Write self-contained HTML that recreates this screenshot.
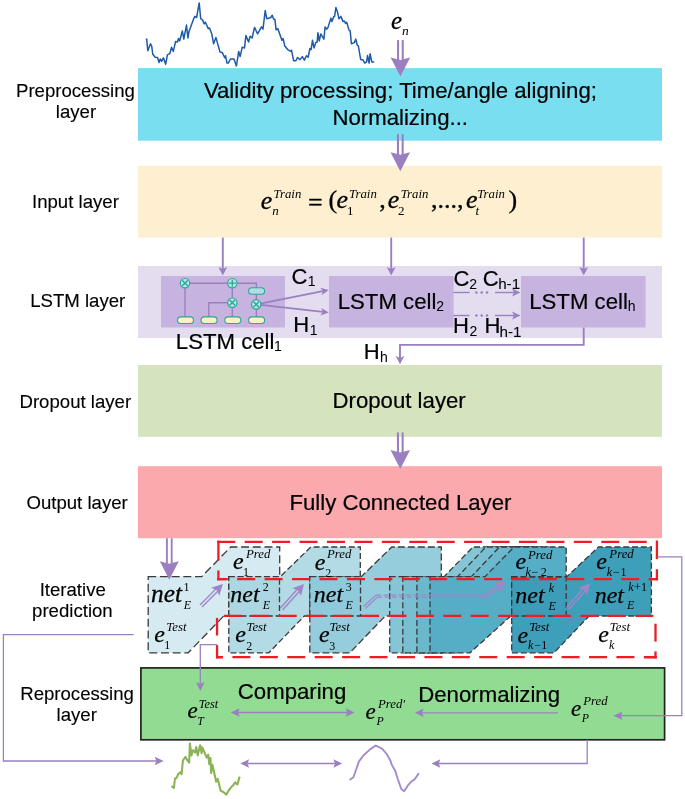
<!DOCTYPE html>
<html><head><meta charset="utf-8">
<style>
html,body{margin:0;padding:0;background:#fff;}
svg{display:block;will-change:transform;}
.s{font-family:"Liberation Sans",sans-serif;fill:#000;stroke:#000;}
.m{font-family:"Liberation Serif",serif;font-style:italic;fill:#000;stroke:#000;}
.r{font-family:"Liberation Serif",serif;fill:#000;stroke:#000;}
</style></head><body>
<svg width="685" height="799" viewBox="0 0 685 799">
<rect x="138" y="68.1" width="524" height="72.6" fill="#79dff0"/>
<rect x="138" y="165.8" width="524" height="71.8" fill="#fdefd0"/>
<rect x="138" y="266" width="524" height="72" fill="#e4ddf0"/>
<rect x="161" y="276" width="124" height="51.5" fill="#c6b3e0"/>
<rect x="329" y="276" width="124.6" height="51.5" fill="#c6b3e0"/>
<rect x="521" y="276" width="124.6" height="51.5" fill="#c6b3e0"/>
<rect x="138" y="365" width="524" height="71.8" fill="#d5e3be"/>
<rect x="138" y="466.2" width="524" height="72" fill="#fba9ac"/>
<rect x="140.9" y="667.9" width="523.7" height="71.9" fill="#92db92" stroke="#222" stroke-width="1.7"/>
<polyline points="145.80,39.70 146.70,39.10 147.80,50.80 150.50,43.80 151.70,46.10 152.80,54.30 155.20,57.20 157.50,57.50 159.00,62.50 160.20,59.00 161.60,61.30 163.40,57.80 165.70,64.20 167.40,54.90 169.80,53.70 171.50,47.30 173.30,51.40 175.60,41.50 177.40,42.00 178.50,38.50 179.70,40.90 182.30,31.00 183.80,39.10 186.50,25.10 187.90,38.00 189.00,31.50 193.70,18.70 194.90,16.40 196.60,17.50 199.20,2.90 200.70,18.70 202.50,19.90 204.20,23.90 205.40,22.20 208.30,28.60 209.50,28.00 211.80,33.90 213.60,43.80 215.90,37.40 220.00,52.00 222.30,52.60 224.70,57.80 225.60,55.80 227.00,63.10 228.20,63.10 230.50,59.00 234.00,59.00 236.40,66.00 238.70,51.40 240.10,56.60 242.20,47.30 244.50,47.90 245.90,35.60 248.60,42.00 250.10,36.20 252.10,38.00 254.50,27.40 257.60,33.90 261.50,26.90 263.00,29.20 265.20,10.50 266.70,18.70 270.80,17.50 272.20,15.20 273.70,19.30 274.90,19.30 276.10,29.80 277.80,28.60 281.90,40.30 283.10,38.50 284.80,46.10 287.70,49.60 290.70,51.40 291.50,50.20 293.60,60.70 295.90,60.70 297.40,57.50 300.00,59.60 302.30,56.60 304.40,60.10 306.40,55.80 308.20,57.20 309.90,48.50 311.10,49.60 312.50,40.30 314.00,47.90 315.80,42.60 317.20,42.00 317.90,32.70 319.30,40.90 320.80,33.90 323.90,39.10 325.10,26.90 326.60,29.20 328.00,27.40 330.90,18.10 331.80,21.60 333.90,16.40 334.60,16.40 335.90,7.60 337.40,11.70 338.90,18.70 340.90,16.40 343.00,21.60 344.40,21.00 345.50,23.40 346.70,22.20 349.10,30.40 350.20,30.90 351.40,43.80 354.30,42.60 355.80,39.10 357.20,45.00 358.40,46.10 360.70,59.60 363.10,60.10 364.80,63.10 366.60,61.90 367.50,55.50 369.10,63.10 370.10,53.70 371.80,61.90 374.20,62.10" fill="none" stroke="#1f5aa9" stroke-width="1.5" stroke-linejoin="round"/>
<polyline points="398.05,40.10 398.05,60.60" fill="none" stroke="#9a80c0" stroke-width="2.1"/>
<polyline points="402.75,40.10 402.75,60.60" fill="none" stroke="#9a80c0" stroke-width="2.1"/>
<polygon points="400.40,76.60 390.60,57.60 400.40,60.10 410.20,57.60" fill="#9a80c0"/>
<polyline points="397.95,134.20 397.95,155.20" fill="none" stroke="#9a80c0" stroke-width="2.1"/>
<polyline points="402.65,134.20 402.65,155.20" fill="none" stroke="#9a80c0" stroke-width="2.1"/>
<polygon points="400.30,171.20 390.50,152.20 400.30,154.70 410.10,152.20" fill="#9a80c0"/>
<polyline points="397.95,432.40 397.95,453.00" fill="none" stroke="#9a80c0" stroke-width="2.1"/>
<polyline points="402.65,432.40 402.65,453.00" fill="none" stroke="#9a80c0" stroke-width="2.1"/>
<polygon points="400.30,469.00 390.50,450.00 400.30,452.50 410.10,450.00" fill="#9a80c0"/>
<polyline points="222.80,237.60 222.80,269.10" fill="none" stroke="#9a80c0" stroke-width="1.9"/>
<polygon points="222.80,275.40 218.40,266.90 222.80,269.10 227.20,266.90" fill="#9a80c0"/>
<polyline points="391.20,237.60 391.20,269.10" fill="none" stroke="#9a80c0" stroke-width="1.9"/>
<polygon points="391.20,275.40 386.80,266.90 391.20,269.10 395.60,266.90" fill="#9a80c0"/>
<polyline points="583.70,237.60 583.70,269.10" fill="none" stroke="#9a80c0" stroke-width="1.9"/>
<polygon points="583.70,275.40 579.30,266.90 583.70,269.10 588.10,266.90" fill="#9a80c0"/>
<polyline points="185.00,283.20 256.40,283.20 256.40,290.00" fill="none" stroke="#9a80c0" stroke-width="1.4"/>
<polyline points="185.00,283.20 185.00,320.00" fill="none" stroke="#9a80c0" stroke-width="1.4"/>
<polyline points="232.30,283.20 232.30,320.00" fill="none" stroke="#9a80c0" stroke-width="1.4"/>
<polyline points="208.80,320.00 208.80,302.70 232.30,302.70" fill="none" stroke="#9a80c0" stroke-width="1.4"/>
<polyline points="256.40,290.00 256.40,320.00" fill="none" stroke="#9a80c0" stroke-width="1.4"/>
<polyline points="256.40,304.40 322.92,291.08" fill="none" stroke="#9a80c0" stroke-width="1.7"/>
<polygon points="328.80,289.90 321.70,295.20 322.92,291.08 320.21,287.75" fill="#9a80c0"/>
<polyline points="256.40,304.40 322.84,311.92" fill="none" stroke="#9a80c0" stroke-width="1.7"/>
<polygon points="328.80,312.60 320.42,315.48 322.84,311.92 321.28,307.92" fill="#9a80c0"/>
<rect x="177.5" y="316.9" width="16.0" height="6.6" rx="3.3" fill="#fbf1c2" stroke="#2aa897" stroke-width="1.1"/>
<rect x="201.1" y="316.9" width="16.0" height="6.6" rx="3.3" fill="#fbf1c2" stroke="#2aa897" stroke-width="1.1"/>
<rect x="224.8" y="316.9" width="16.0" height="6.6" rx="3.3" fill="#fbf1c2" stroke="#2aa897" stroke-width="1.1"/>
<rect x="248.6" y="316.9" width="16.0" height="6.6" rx="3.3" fill="#fbf1c2" stroke="#2aa897" stroke-width="1.1"/>
<rect x="248.6" y="287.7" width="16.0" height="6.6" rx="3.3" fill="#b3dde3" stroke="#2aa897" stroke-width="1.1"/>
<circle cx="185.0" cy="283.2" r="4.7" fill="#b9e4e4" stroke="#2aa897" stroke-width="1.2"/>
<path d="M182.1,280.3L187.9,286.09999999999997M182.1,286.09999999999997L187.9,280.3" stroke="#2aa897" stroke-width="1.35"/>
<circle cx="232.3" cy="283.2" r="4.7" fill="#b9e4e4" stroke="#2aa897" stroke-width="1.2"/>
<path d="M228.8,283.2L235.8,283.2M232.3,279.7L232.3,286.7" stroke="#2aa897" stroke-width="1.3"/>
<circle cx="232.3" cy="302.7" r="4.7" fill="#b9e4e4" stroke="#2aa897" stroke-width="1.2"/>
<path d="M229.4,299.8L235.20000000000002,305.59999999999997M229.4,305.59999999999997L235.20000000000002,299.8" stroke="#2aa897" stroke-width="1.35"/>
<circle cx="256.2" cy="304.4" r="4.7" fill="#b9e4e4" stroke="#2aa897" stroke-width="1.2"/>
<path d="M253.29999999999998,301.5L259.09999999999997,307.29999999999995M253.29999999999998,307.29999999999995L259.09999999999997,301.5" stroke="#2aa897" stroke-width="1.35"/>
<polyline points="453.30,292.50 469.50,292.50" fill="none" stroke="#9a80c0" stroke-width="1.4"/>
<circle cx="476.4" cy="292.5" r="1.3" fill="#9a80c0"/>
<circle cx="481.7" cy="292.5" r="1.3" fill="#9a80c0"/>
<circle cx="487.0" cy="292.5" r="1.3" fill="#9a80c0"/>
<polyline points="495.00,292.50 514.00,292.50" fill="none" stroke="#9a80c0" stroke-width="1.4"/>
<polygon points="520.50,292.50 512.00,296.40 514.00,292.50 512.00,288.60" fill="#9a80c0"/>
<polyline points="453.30,315.50 469.50,315.50" fill="none" stroke="#9a80c0" stroke-width="1.4"/>
<circle cx="476.4" cy="315.5" r="1.3" fill="#9a80c0"/>
<circle cx="481.7" cy="315.5" r="1.3" fill="#9a80c0"/>
<circle cx="487.0" cy="315.5" r="1.3" fill="#9a80c0"/>
<polyline points="495.00,315.50 514.00,315.50" fill="none" stroke="#9a80c0" stroke-width="1.4"/>
<polygon points="520.50,315.50 512.00,319.40 514.00,315.50 512.00,311.60" fill="#9a80c0"/>
<polyline points="583.70,327.50 583.70,344.90 400.00,344.90 400.00,357.90" fill="none" stroke="#9a80c0" stroke-width="1.9"/>
<polygon points="400.00,364.20 395.60,355.70 400.00,357.90 404.40,355.70" fill="#9a80c0"/>
<polygon points="148.20,576.60 201.70,576.60 230.70,547.00 279.70,547.00 279.70,616.00 223.70,616.00 188.20,652.80 148.20,652.80" fill="#d5eaf1" stroke="#3a3a3a" stroke-width="1.3" stroke-dasharray="8,3.7"/>
<polygon points="228.80,576.60 280.30,576.60 310.80,547.00 360.30,547.00 360.30,616.00 304.30,616.00 268.80,652.80 228.80,652.80" fill="#b3dbe5" stroke="#3a3a3a" stroke-width="1.3" stroke-dasharray="6,2.8"/>
<rect x="228.8" y="576.6" width="50.7" height="39.4" fill="#abd6e2" stroke="#3a3a3a" stroke-width="1.3" stroke-dasharray="6,2.8"/>
<polygon points="309.80,576.60 361.30,576.60 391.80,547.00 441.30,547.00 441.30,616.00 385.30,616.00 349.80,652.80 309.80,652.80" fill="#95cddc" stroke="#3a3a3a" stroke-width="1.3" stroke-dasharray="7,3"/>
<rect x="309.8" y="576.6" width="50.7" height="39.4" fill="#8ecadb" stroke="#3a3a3a" stroke-width="1.3" stroke-dasharray="6,2.8"/>
<polygon points="389.70,576.60 444.10,576.60 473.00,547.00 521.20,547.00 521.20,616.00 465.20,616.00 429.70,652.80 389.70,652.80" fill="#85c5d6" stroke="#3a3a3a" stroke-width="1.3" stroke-dasharray="6,2.8"/>
<polygon points="402.80,576.60 457.70,576.60 485.80,547.00 534.30,547.00 534.30,616.00 478.30,616.00 442.80,652.80 402.80,652.80" fill="#78bfd2" stroke="#3a3a3a" stroke-width="1.3" stroke-dasharray="6,2.8"/>
<polygon points="416.90,576.60 471.40,576.60 499.50,547.00 548.40,547.00 548.40,616.00 492.40,616.00 456.90,652.80 416.90,652.80" fill="#6bb8cd" stroke="#3a3a3a" stroke-width="1.3" stroke-dasharray="6,2.8"/>
<polygon points="430.00,576.60 485.00,576.60 514.00,547.00 566.20,547.00 566.20,616.00 510.80,616.00 470.00,652.80 430.00,652.80" fill="#56adc6" stroke="#3a3a3a" stroke-width="1.3" stroke-dasharray="6,2.8"/>
<polygon points="511.70,576.60 566.90,576.60 598.40,547.00 651.40,547.00 651.40,616.00 589.10,616.00 554.00,652.80 511.70,652.80" fill="#3e9fba" stroke="#3a3a3a" stroke-width="1.3" stroke-dasharray="6,2.8"/>
<rect x="511.7" y="577.2" width="54.5" height="38.8" fill="#3d9db8" stroke="#3a3a3a" stroke-width="1.3" stroke-dasharray="6,2.8"/>
<line x1="217.25" y1="541.8" x2="658.05" y2="541.8" stroke="#ee1c25" stroke-width="2.3" stroke-dasharray="18,9.43" stroke-dashoffset="0.00"/>
<line x1="217.25" y1="579.1" x2="658.05" y2="579.1" stroke="#ee1c25" stroke-width="2.3" stroke-dasharray="18,9.43" stroke-dashoffset="7.48"/>
<line x1="218.4" y1="540.65" x2="218.4" y2="560.6" stroke="#ee1c25" stroke-width="2.3"/>
<line x1="218.4" y1="570.5" x2="218.4" y2="580.25" stroke="#ee1c25" stroke-width="2.3"/>
<line x1="656.9" y1="540.65" x2="656.9" y2="559.1" stroke="#ee1c25" stroke-width="2.3"/>
<line x1="656.9" y1="569.2" x2="656.9" y2="580.25" stroke="#ee1c25" stroke-width="2.3"/>
<line x1="217.25" y1="579.1" x2="226.4" y2="579.1" stroke="#ee1c25" stroke-width="2.3" stroke-dasharray="18,9.43" stroke-dashoffset="0.00"/>
<line x1="649.4" y1="579.1" x2="658.05" y2="579.1" stroke="#ee1c25" stroke-width="2.3" stroke-dasharray="18,9.43" stroke-dashoffset="0.00"/>
<line x1="216.45" y1="615.9" x2="656.65" y2="615.9" stroke="#ee1c25" stroke-width="2.3" stroke-dasharray="18,9.43" stroke-dashoffset="20.01"/>
<line x1="216.45" y1="657.2" x2="656.65" y2="657.2" stroke="#ee1c25" stroke-width="2.3" stroke-dasharray="18,9.43" stroke-dashoffset="11.48"/>
<line x1="217.05" y1="617.9" x2="217.05" y2="635.5" stroke="#ee1c25" stroke-width="2.3"/>
<line x1="217.05" y1="645.1" x2="217.05" y2="658.35" stroke="#ee1c25" stroke-width="2.3"/>
<line x1="655.5" y1="623.7" x2="655.5" y2="641.6" stroke="#ee1c25" stroke-width="2.3"/>
<line x1="655.5" y1="651.4" x2="655.5" y2="658.35" stroke="#ee1c25" stroke-width="2.3"/>
<line x1="216.0" y1="657.2" x2="222.6" y2="657.2" stroke="#ee1c25" stroke-width="2.3" stroke-dasharray="18,9.43" stroke-dashoffset="0.00"/>
<line x1="644.5" y1="657.2" x2="656.65" y2="657.2" stroke="#ee1c25" stroke-width="2.3" stroke-dasharray="18,9.43" stroke-dashoffset="0.00"/>
<polyline points="166.90,538.20 166.90,564.30" fill="none" stroke="#9a80c0" stroke-width="1.9"/>
<polyline points="171.70,538.20 171.70,564.30" fill="none" stroke="#9a80c0" stroke-width="1.9"/>
<polygon points="169.30,579.80 159.80,561.30 169.30,563.80 178.80,561.30" fill="#9a80c0"/>
<polyline points="199.97,604.98 215.68,589.13" fill="none" stroke="#9f86c9" stroke-width="1.4"/>
<polyline points="202.03,607.02 217.74,591.17" fill="none" stroke="#9f86c9" stroke-width="1.4"/>
<polygon points="222.90,583.90 219.28,595.80 216.71,590.15 211.04,587.63" fill="#9f86c9"/>
<polyline points="280.42,608.03 297.05,589.48" fill="none" stroke="#9f86c9" stroke-width="1.4"/>
<polyline points="282.58,609.97 299.21,591.42" fill="none" stroke="#9f86c9" stroke-width="1.4"/>
<polygon points="304.00,583.90 300.98,595.96 298.13,590.45 292.34,588.22" fill="#9f86c9"/>
<polyline points="566.42,607.53 583.04,589.07" fill="none" stroke="#9f86c9" stroke-width="1.4"/>
<polyline points="568.58,609.47 585.19,591.01" fill="none" stroke="#9f86c9" stroke-width="1.4"/>
<polygon points="590.00,583.50 586.95,595.56 584.11,590.04 578.33,587.80" fill="#9f86c9"/>
<polyline points="363.50,606.50 375.90,595.10" fill="none" stroke="#9f86c9" stroke-width="1.2"/>
<line x1="375.9" y1="595.1" x2="430" y2="595.1" stroke="#9f86c9" stroke-width="1.2" stroke-dasharray="5,2.5"/>
<line x1="430" y1="595.1" x2="485.70000000000005" y2="595.1" stroke="#9f86c9" stroke-width="1.2"/>
<polyline points="365.30,608.50 377.10,597.20" fill="none" stroke="#9f86c9" stroke-width="1.2"/>
<line x1="377.1" y1="597.2" x2="430" y2="597.2" stroke="#9f86c9" stroke-width="1.2" stroke-dasharray="5,2.5"/>
<line x1="430" y1="597.2" x2="487.5" y2="597.2" stroke="#9f86c9" stroke-width="1.2"/>
<polyline points="485.13,594.84 498.00,585.14" fill="none" stroke="#9f86c9" stroke-width="1.4"/>
<polyline points="486.87,597.16 499.75,587.45" fill="none" stroke="#9f86c9" stroke-width="1.4"/>
<polygon points="505.90,581.00 500.61,592.25 498.87,586.30 493.62,582.99" fill="#9f86c9"/>
<text class="m" x="151.11" y="601.70" font-size="25.30" style="stroke-width:0.28px">net</text>
<text class="r" x="183.52" y="591.40" font-size="12.00" style="stroke:none">1</text>
<text class="m" x="183.82" y="609.30" font-size="12.00" style="stroke:none">E</text>
<text class="m" x="154.18" y="642.10" font-size="24.00" style="stroke-width:0.25px">e</text>
<text class="m" x="166.37" y="630.60" font-size="12.80" style="stroke:none">Test</text>
<text class="r" x="164.32" y="649.40" font-size="12.00" style="stroke:none">1</text>
<text class="m" x="233.08" y="569.10" font-size="24.00" style="stroke-width:0.25px">e</text>
<text class="m" x="246.06" y="557.50" font-size="12.80" style="stroke:none">Pred</text>
<text class="r" x="243.02" y="575.90" font-size="12.00" style="stroke:none">1</text>
<text class="m" x="230.26" y="602.20" font-size="24.00" style="stroke-width:0.25px">net</text>
<text class="r" x="262.86" y="591.20" font-size="12.00" style="stroke:none">2</text>
<text class="m" x="262.72" y="609.10" font-size="12.00" style="stroke:none">E</text>
<text class="m" x="235.28" y="642.30" font-size="24.00" style="stroke-width:0.25px">e</text>
<text class="m" x="246.47" y="631.20" font-size="12.80" style="stroke:none">Test</text>
<text class="r" x="246.16" y="649.80" font-size="12.00" style="stroke:none">2</text>
<text class="m" x="314.78" y="569.50" font-size="24.00" style="stroke-width:0.25px">e</text>
<text class="m" x="327.06" y="557.50" font-size="12.80" style="stroke:none">Pred</text>
<text class="r" x="325.26" y="576.60" font-size="12.00" style="stroke:none">2</text>
<text class="m" x="313.86" y="602.20" font-size="24.00" style="stroke-width:0.25px">net</text>
<text class="r" x="345.70" y="591.20" font-size="12.00" style="stroke:none">3</text>
<text class="m" x="345.62" y="609.10" font-size="12.00" style="stroke:none">E</text>
<text class="m" x="319.08" y="642.30" font-size="24.00" style="stroke-width:0.25px">e</text>
<text class="m" x="329.57" y="631.20" font-size="12.80" style="stroke:none">Test</text>
<text class="r" x="329.20" y="649.80" font-size="12.00" style="stroke:none">3</text>
<text class="m" x="515.38" y="569.20" font-size="24.00" style="stroke-width:0.25px">e</text>
<text class="m" x="528.06" y="558.70" font-size="12.80" style="stroke:none">Pred</text>
<text class="m" x="525.44" y="576.20" font-size="12.00" style="stroke:none">k</text>
<text class="r" x="531.50" y="576.20" font-size="12.00" style="stroke:none">−</text>
<text class="r" x="540.76" y="576.20" font-size="12.00" style="stroke:none">2</text>
<text class="m" x="515.26" y="603.40" font-size="24.00" style="stroke-width:0.25px">net</text>
<text class="m" x="548.74" y="591.90" font-size="12.00" style="stroke:none">k</text>
<text class="m" x="548.42" y="609.80" font-size="12.00" style="stroke:none">E</text>
<text class="m" x="517.58" y="642.60" font-size="24.00" style="stroke-width:0.25px">e</text>
<text class="m" x="529.17" y="631.00" font-size="12.80" style="stroke:none">Test</text>
<text class="m" x="528.04" y="648.50" font-size="12.00" style="stroke:none">k</text>
<text class="r" x="534.30" y="648.50" font-size="12.00" style="stroke:none">−</text>
<text class="r" x="541.32" y="648.50" font-size="12.00" style="stroke:none">1</text>
<text class="m" x="596.18" y="569.40" font-size="24.00" style="stroke-width:0.25px">e</text>
<text class="m" x="609.36" y="558.00" font-size="12.80" style="stroke:none">Pred</text>
<text class="m" x="606.84" y="575.90" font-size="12.00" style="stroke:none">k</text>
<text class="r" x="613.10" y="575.90" font-size="12.00" style="stroke:none">−</text>
<text class="r" x="620.62" y="575.90" font-size="12.00" style="stroke:none">1</text>
<text class="m" x="594.66" y="602.60" font-size="24.00" style="stroke-width:0.25px">net</text>
<text class="m" x="628.24" y="590.50" font-size="12.00" style="stroke:none">k</text>
<text class="r" x="634.00" y="590.50" font-size="12.00" style="stroke:none">+</text>
<text class="r" x="641.12" y="590.50" font-size="12.00" style="stroke:none">1</text>
<text class="m" x="627.02" y="608.80" font-size="12.00" style="stroke:none">E</text>
<text class="m" x="598.28" y="642.30" font-size="24.00" style="stroke-width:0.25px">e</text>
<text class="m" x="609.87" y="631.20" font-size="12.80" style="stroke:none">Test</text>
<text class="m" x="608.94" y="649.00" font-size="12.00" style="stroke:none">k</text>
<text class="m" x="391.05" y="29.40" font-size="25.00" style="stroke-width:0.27px">e</text>
<text class="m" x="401.93" y="35.00" font-size="13.50" style="stroke-width:0.02px">n</text>
<text class="m" x="260.72" y="208.80" font-size="26.00" style="stroke-width:0.30px">e</text>
<text class="m" x="273.57" y="197.60" font-size="12.80" style="stroke:none">Train</text>
<text class="m" x="272.15" y="214.80" font-size="13.00" style="stroke-width:0.01px">n</text>
<text class="r" x="307.90" y="210.60" font-size="26.00" style="stroke-width:0.30px">=</text>
<text class="r" x="328.43" y="208.00" font-size="26.00" style="stroke-width:0.30px">(</text>
<text class="m" x="336.62" y="208.30" font-size="26.00" style="stroke-width:0.30px">e</text>
<text class="m" x="349.07" y="197.60" font-size="12.80" style="stroke:none">Train</text>
<text class="r" x="347.03" y="214.80" font-size="13.00" style="stroke-width:0.01px">1</text>
<text class="r" x="379.36" y="208.30" font-size="26.00" style="stroke-width:0.30px">,</text>
<text class="m" x="387.82" y="208.30" font-size="26.00" style="stroke-width:0.30px">e</text>
<text class="m" x="400.67" y="197.60" font-size="12.80" style="stroke:none">Train</text>
<text class="r" x="398.02" y="214.80" font-size="13.00" style="stroke-width:0.01px">2</text>
<text class="r" x="431.06" y="208.30" font-size="26.00" style="stroke-width:0.30px">,...,</text>
<text class="m" x="466.12" y="208.30" font-size="26.00" style="stroke-width:0.30px">e</text>
<text class="m" x="477.17" y="197.60" font-size="12.80" style="stroke:none">Train</text>
<text class="m" x="475.62" y="214.80" font-size="13.00" style="stroke-width:0.01px">t</text>
<text class="r" x="508.62" y="208.00" font-size="26.00" style="stroke-width:0.30px">)</text>
<polyline points="133.60,634.60 3.40,634.60 3.40,761.00 156.30,761.00" fill="none" stroke="#9a80c0" stroke-width="1.3"/>
<polygon points="163.60,761.00 154.80,765.20 156.30,761.00 154.80,756.80" fill="#9a80c0"/>
<polyline points="217.00,644.60 200.30,644.60 200.30,683.70" fill="none" stroke="#9a80c0" stroke-width="1.3"/>
<polygon points="200.30,691.00 196.10,682.20 200.30,683.70 204.50,682.20" fill="#9a80c0"/>
<polyline points="657.50,556.80 681.80,556.80 681.80,715.70 620.90,715.70" fill="none" stroke="#9a80c0" stroke-width="1.3"/>
<polygon points="613.60,715.70 622.40,711.50 620.90,715.70 622.40,719.90" fill="#9a80c0"/>
<polyline points="238.10,712.50 347.20,712.50" fill="none" stroke="#9a80c0" stroke-width="1.3"/>
<polygon points="230.80,712.50 239.60,708.30 238.10,712.50 239.60,716.70" fill="#9a80c0"/>
<polygon points="354.50,712.50 345.70,716.70 347.20,712.50 345.70,708.30" fill="#9a80c0"/>
<polyline points="558.00,712.80 422.10,712.80" fill="none" stroke="#9a80c0" stroke-width="1.3"/>
<polygon points="414.80,712.80 423.60,708.60 422.10,712.80 423.60,717.00" fill="#9a80c0"/>
<polyline points="587.20,739.80 587.20,763.50 438.80,763.50" fill="none" stroke="#9a80c0" stroke-width="1.3"/>
<polygon points="431.50,763.50 440.30,759.30 438.80,763.50 440.30,767.70" fill="#9a80c0"/>
<polyline points="247.60,763.50 334.90,763.50" fill="none" stroke="#9a80c0" stroke-width="1.3"/>
<polygon points="240.30,763.50 249.10,759.30 247.60,763.50 249.10,767.70" fill="#9a80c0"/>
<polygon points="342.20,763.50 333.40,767.70 334.90,763.50 333.40,759.30" fill="#9a80c0"/>
<polyline points="171.40,786.10 173.90,787.80 175.00,778.50 176.40,778.10 178.20,774.10 180.40,772.20 181.60,774.10 182.90,760.50 185.50,756.90 186.60,759.10 189.20,762.70 189.90,743.50 191.40,755.40 192.80,750.30 195.00,752.50 196.20,747.00 197.70,755.40 200.10,745.20 201.60,753.20 202.30,747.40 206.70,757.60 208.20,754.70 209.30,764.20 210.50,758.00 211.10,773.00 212.50,764.90 216.20,781.70 217.70,778.80 220.60,790.50 224.20,792.70 226.40,794.60 228.60,790.50 231.50,786.80 233.00,785.40 235.20,782.40 237.40,784.60 239.60,776.60" fill="none" stroke="#8cb356" stroke-width="2.1" stroke-linejoin="round"/>
<polyline points="350.20,779.50 353.40,777.30 359.00,761.30 364.10,754.70 370.70,748.90 375.80,745.50 382.30,748.90 386.70,754.00 390.40,760.50 391.80,764.90 395.20,770.80 397.70,778.80 401.30,789.00 404.20,791.20 407.90,785.40 411.50,781.40 414.50,779.50 418.50,773.70" fill="none" stroke="#a48bc9" stroke-width="1.9" stroke-linejoin="round" stroke-linecap="round"/>
<text class="m" x="187.51" y="718.40" font-size="23.00" style="stroke-width:0.23px">e</text>
<text class="m" x="198.80" y="707.60" font-size="12.30" style="stroke:none">Test</text>
<text class="m" x="197.33" y="724.60" font-size="11.80" style="stroke:none">T</text>
<text class="m" x="365.51" y="718.60" font-size="23.00" style="stroke-width:0.23px">e</text>
<text class="m" x="377.96" y="707.80" font-size="12.80" style="stroke:none">Pred'</text>
<text class="m" x="376.46" y="724.70" font-size="11.80" style="stroke:none">P</text>
<text class="m" x="570.91" y="716.20" font-size="23.00" style="stroke-width:0.23px">e</text>
<text class="m" x="583.26" y="705.10" font-size="12.80" style="stroke:none">Pred</text>
<text class="m" x="581.86" y="722.30" font-size="11.80" style="stroke:none">P</text>
<text class="s" x="16.01" y="96.50" font-size="18.60" style="stroke-width:0.13px">Preprocessing</text>
<text class="s" x="55.79" y="117.50" font-size="18.60" style="stroke-width:0.13px">layer</text>
<text class="s" x="32.03" y="207.60" font-size="18.60" style="stroke-width:0.13px">Input layer</text>
<text class="s" x="30.21" y="306.70" font-size="18.60" style="stroke-width:0.13px">LSTM layer</text>
<text class="s" x="19.51" y="407.60" font-size="18.60" style="stroke-width:0.13px">Dropout layer</text>
<text class="s" x="26.46" y="509.20" font-size="18.60" style="stroke-width:0.13px">Output layer</text>
<text class="s" x="39.63" y="595.70" font-size="18.60" style="stroke-width:0.13px">Iterative</text>
<text class="s" x="32.09" y="616.80" font-size="18.60" style="stroke-width:0.13px">prediction</text>
<text class="s" x="20.21" y="700.20" font-size="18.60" style="stroke-width:0.13px">Reprocessing</text>
<text class="s" x="56.59" y="721.20" font-size="18.60" style="stroke-width:0.13px">layer</text>
<text class="s" x="203.89" y="97.60" font-size="22.20" style="stroke-width:0.21px">Validity processing; Time/angle aligning;</text>
<text class="s" x="332.42" y="124.70" font-size="22.20" style="stroke-width:0.21px">Normalizing...</text>
<text class="s" x="332.52" y="407.80" font-size="22.20" style="stroke-width:0.21px">Dropout layer</text>
<text class="s" x="289.42" y="509.50" font-size="22.20" style="stroke-width:0.21px">Fully Connected Layer</text>
<text class="s" x="237.79" y="698.50" font-size="22.20" style="stroke-width:0.21px">Comparing</text>
<text class="s" x="418.22" y="701.60" font-size="22.20" style="stroke-width:0.21px">Denormalizing</text>
<text class="s" x="175.82" y="348.70" font-size="22.20" style="stroke-width:0.21px">LSTM cell</text>
<text class="s" x="273.95" y="351.30" font-size="14.00" style="stroke-width:0.03px">1</text>
<text class="s" x="337.72" y="308.50" font-size="22.20" style="stroke-width:0.21px">LSTM cell</text>
<text class="s" x="436.30" y="311.00" font-size="14.00" style="stroke-width:0.03px">2</text>
<text class="s" x="529.22" y="308.50" font-size="22.20" style="stroke-width:0.21px">LSTM cell</text>
<text class="s" x="627.82" y="311.00" font-size="14.00" style="stroke-width:0.03px">h</text>
<text class="s" x="291.40" y="284.00" font-size="22.00" style="stroke-width:0.21px">C</text>
<text class="s" x="307.85" y="286.40" font-size="14.00" style="stroke-width:0.03px">1</text>
<text class="s" x="293.34" y="332.40" font-size="22.00" style="stroke-width:0.21px">H</text>
<text class="s" x="309.75" y="335.20" font-size="14.00" style="stroke-width:0.03px">1</text>
<text class="s" x="453.50" y="286.20" font-size="22.00" style="stroke-width:0.21px">C</text>
<text class="s" x="469.20" y="288.80" font-size="14.00" style="stroke-width:0.03px">2</text>
<text class="s" x="482.80" y="286.20" font-size="22.00" style="stroke-width:0.21px">C</text>
<text class="s" x="498.14" y="289.30" font-size="15.20" style="stroke-width:0.06px">h-1</text>
<text class="s" x="452.94" y="332.50" font-size="22.00" style="stroke-width:0.21px">H</text>
<text class="s" x="469.50" y="335.80" font-size="14.00" style="stroke-width:0.03px">2</text>
<text class="s" x="484.54" y="332.50" font-size="22.00" style="stroke-width:0.21px">H</text>
<text class="s" x="499.54" y="336.80" font-size="15.20" style="stroke-width:0.06px">h-1</text>
<text class="s" x="363.74" y="358.60" font-size="22.00" style="stroke-width:0.21px">H</text>
<text class="s" x="379.92" y="361.60" font-size="14.00" style="stroke-width:0.03px">h</text>
</svg>
</body></html>
